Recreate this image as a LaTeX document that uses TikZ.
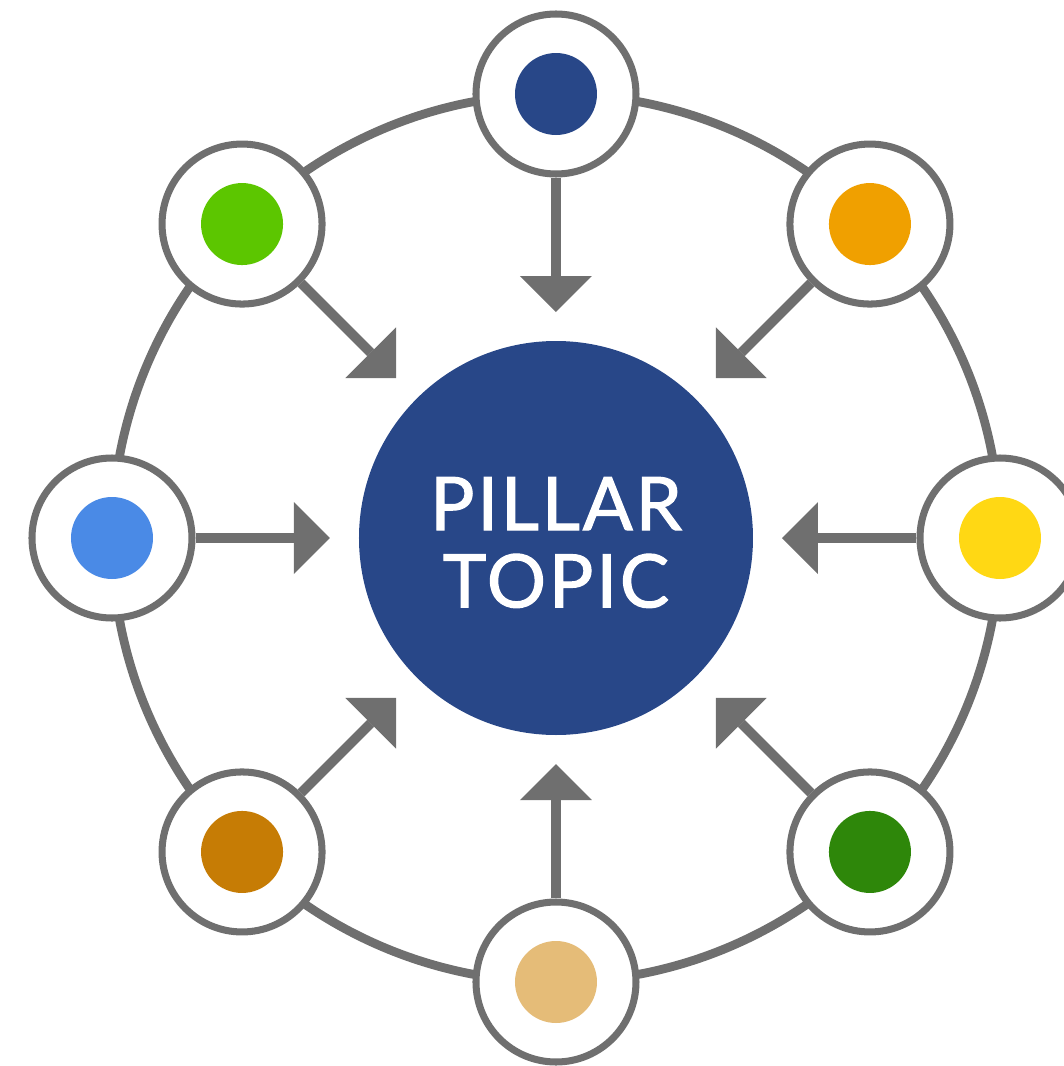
\documentclass[tikz,border=0pt]{standalone}
\usepackage{fontspec}
\setmainfont{Lato}
\newfontfamily\hubfont{Lato}[FakeBold=1.5, LetterSpace=4]
\usepackage{xcolor}
\usepackage{tikz}
\usetikzlibrary{arrows.meta}

\definecolor{hubblue}{RGB}{40,71,136}
\definecolor{ringgray}{RGB}{111,111,111}
\definecolor{limegreen}{RGB}{92,198,0}
\definecolor{amber}{RGB}{240,160,0}
\definecolor{skyblue}{RGB}{74,138,230}
\definecolor{sunyellow}{RGB}{255,216,20}
\definecolor{rust}{RGB}{198,124,5}
\definecolor{forest}{RGB}{46,135,10}
\definecolor{sand}{RGB}{229,188,120}

\begin{document}
\begin{tikzpicture}[
    hub/.style={circle, fill=hubblue, minimum size=7.88cm, inner sep=0pt, outer sep=0pt,
                text=white, text height=0pt, text depth=0.32cm,
                font=\hubfont\fontsize{42}{44}\selectfont},
    sat/.style={circle, draw=ringgray, line width=4pt, fill=white, minimum size=3.2cm, inner sep=0pt},
    dot/.style={circle, minimum size=1.64cm, inner sep=0pt},
    ring/.style={draw=ringgray, line width=5pt},
    feed/.style={draw=ringgray, line width=5.5pt, shorten >=0.58cm,
                 -{Triangle[length=0.72cm, width=1.44cm, line width=0pt]}}
]
            \useasboundingbox (-11.12,-10.56) rectangle (10.16,10.76);

            \node [hub] (P) at (0,0) {\begin{tabular}[t]{@{}c@{}}PILLAR\\TOPIC\end{tabular}};
            \draw [ring] (P.center) circle (8.88);

            \node [sat] (N) at (90:8.88) {};
            \node [dot, fill=hubblue] (N1) at (N) {};
            \node [sat] (NE) at (45:8.88) {};
            \node [dot, fill=amber] (NE1) at (NE) {};
            \node [sat] (E) at (0:8.88) {};
            \node [dot, fill=sunyellow] (E1) at (E) {};
            \node [sat] (SE) at (-45:8.88) {};
            \node [dot, fill=forest] (SE1) at (SE) {};
            \node [sat] (S) at (-90:8.88) {};
            \node [dot, fill=sand] (S1) at (S) {};
            \node [sat] (SW) at (-135:8.88) {};
            \node [dot, fill=rust] (SW1) at (SW) {};
            \node [sat] (W) at (180:8.88) {};
            \node [dot, fill=skyblue] (W1) at (W) {};
            \node [sat] (NW) at (135:8.88) {};
            \node [dot, fill=limegreen] (NW1) at (NW) {};

            \draw [feed] (N) -- (P);
            \draw [feed] (NE) -- (P);
            \draw [feed] (E) -- (P);
            \draw [feed] (SE) -- (P);
            \draw [feed] (S) -- (P);
            \draw [feed] (SW) -- (P);
            \draw [feed] (W) -- (P);
            \draw [feed] (NW) -- (P);

\end{tikzpicture}
\end{document}
